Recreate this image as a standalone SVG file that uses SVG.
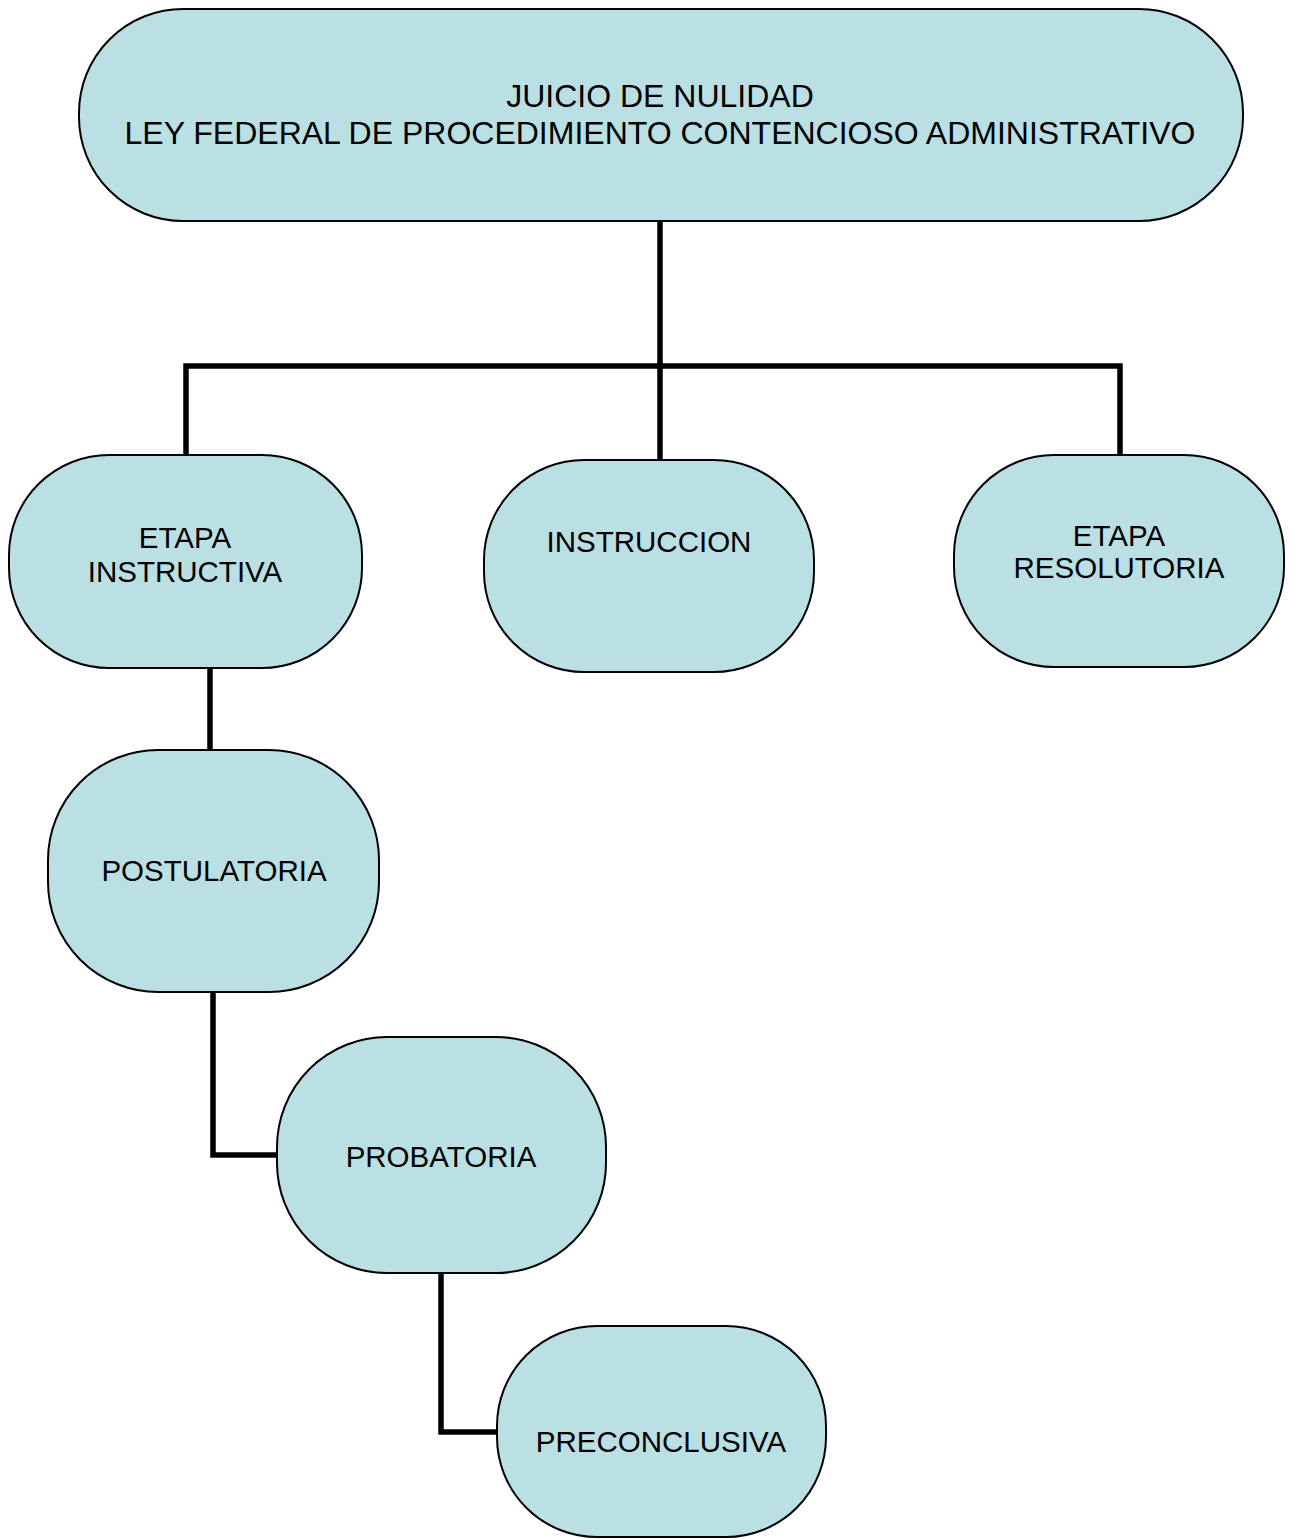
<svg xmlns="http://www.w3.org/2000/svg" width="1295" height="1539" viewBox="0 0 1295 1539">
<style>
.node{fill:#BAE0E3;stroke:#000;stroke-width:2}
.lbl{font-family:"Liberation Sans",Arial,sans-serif;font-size:29.5px;fill:#000;text-anchor:middle}
.big{font-size:32px}
.conn{fill:none;stroke:#000;stroke-width:5.5}
</style>
<rect width="1295" height="1539" fill="#fff"/>
<g id="connectors">
<path class="conn" d="M660 221V460"/>
<path class="conn" d="M186 455V366H1120V455"/>
<path class="conn" d="M210 668V750"/>
<path class="conn" d="M213 992V1155H277"/>
<path class="conn" d="M441 1273V1432H497"/>
</g>
<g id="n-juicio">
<rect class="node" x="79" y="9" width="1164" height="212" rx="104" ry="104"/>
<text class="lbl big" x="660" y="107">JUICIO DE NULIDAD</text>
<text class="lbl big" x="660" y="144">LEY FEDERAL DE PROCEDIMIENTO CONTENCIOSO ADMINISTRATIVO</text>
</g>
<g id="n-instructiva">
<rect class="node" x="9" y="455" width="353" height="213" rx="100" ry="100"/>
<text class="lbl" x="185" y="548">ETAPA</text>
<text class="lbl" x="185" y="582">INSTRUCTIVA</text>
</g>
<g id="n-instruccion">
<rect class="node" x="484" y="460" width="330" height="212" rx="100" ry="100"/>
<text class="lbl" x="649" y="552">INSTRUCCION</text>
</g>
<g id="n-resolutoria">
<rect class="node" x="954" y="455" width="330" height="212" rx="100" ry="100"/>
<text class="lbl" x="1119" y="546">ETAPA</text>
<text class="lbl" x="1119" y="578">RESOLUTORIA</text>
</g>
<g id="n-postulatoria">
<rect class="node" x="48" y="750" width="331" height="242" rx="110" ry="110"/>
<text class="lbl" x="214" y="881">POSTULATORIA</text>
</g>
<g id="n-probatoria">
<rect class="node" x="277" y="1037" width="329" height="236" rx="110" ry="110"/>
<text class="lbl" x="441" y="1167">PROBATORIA</text>
</g>
<g id="n-preconclusiva">
<rect class="node" x="497" y="1326" width="329" height="211" rx="100" ry="100"/>
<text class="lbl" x="661" y="1452">PRECONCLUSIVA</text>
</g>
</svg>
